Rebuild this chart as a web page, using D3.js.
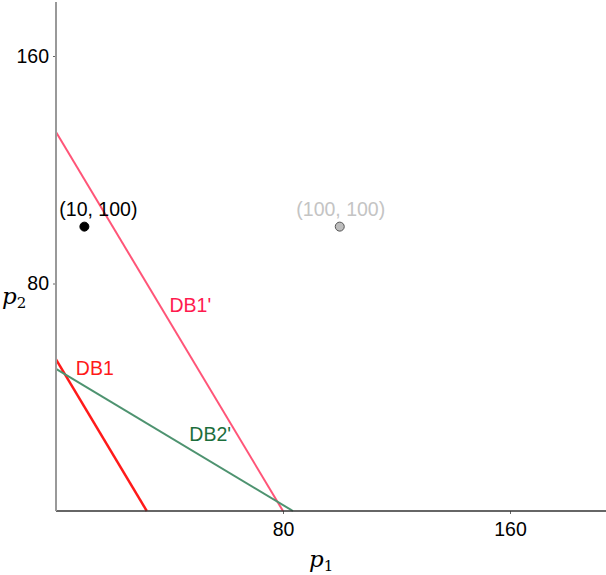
<!DOCTYPE html>
<html>
<head>
<meta charset="utf-8">
<script src="https://cdn.jsdelivr.net/npm/d3@7"></script>
<style>
  body { margin: 0; background: #fff; }
  text { font-family: "Liberation Sans", Arial, sans-serif; }
</style>
</head>
<body>
<div id="chart"></div>
<script>
// budget lines: intercepts on p1 and p2 axes
var lineNames = ["DB1", "DB1'", "DB2'"];
var lineP1Intercepts = [32, 80, 83.5];
var lineP2Intercepts = [53.3, 133.3, 50];
var lineColors = ["#ff1a1a", "#ff5578", "#4e9370"];
var labelColors = ["#ff1a1a", "#ff1a4f", "#1c6e3c"];
var labelPos = [[7, 48], [40, 70], [47, 24.5]];

// points
var pointP1 = [10, 100];
var pointP2 = [100, 100];
var pointLabels = ["(10, 100)", "(100, 100)"];
var pointFill = ["#000000", "#bdbdbd"];
var pointText = ["#000000", "#c4c4c4"];
var labelShift = [14, 1];

var tickValues = [80, 160];

var width = 606, height = 575;
var fontSize = "19.5px";
var svg = d3.select("#chart").append("svg")
    .attr("width", width)
    .attr("height", height);

var x = d3.scaleLinear().domain([0, 80]).range([56, 283]);
var y = d3.scaleLinear().domain([0, 80]).range([511, 283.5]);
var xMax = x.invert(606), yMax = y.invert(2);

// budget lines
lineNames.forEach(function (name, i) {
    svg.append("line")
        .attr("x1", x(0)).attr("y1", y(lineP2Intercepts[i]))
        .attr("x2", x(lineP1Intercepts[i])).attr("y2", y(0))
        .attr("stroke", lineColors[i])
        .attr("stroke-width", i == 0 ? 2.5 : 2);
    svg.append("text")
        .attr("x", x(labelPos[i][0]))
        .attr("y", y(labelPos[i][1]))
        .attr("fill", labelColors[i])
        .style("font-size", fontSize)
        .text(name);
});

// axes
var xAxis = d3.axisBottom(x).tickValues(tickValues).tickSize(3).tickPadding(8);
var gx = svg.append("g").attr("transform", "translate(0," + y(0) + ")").call(xAxis);
gx.select(".domain").remove();
gx.selectAll("line").attr("stroke", "#666");
gx.selectAll("text").style("font-size", fontSize).attr("fill", "#000");
svg.append("line")
    .attr("x1", x(0)).attr("x2", x(xMax))
    .attr("y1", y(0)).attr("y2", y(0))
    .attr("stroke", "#333").attr("stroke-width", 1.5);

var yAxis = d3.axisLeft(y).tickValues(tickValues).tickSize(3).tickPadding(4);
var gy = svg.append("g").attr("transform", "translate(" + x(0) + ",0)").call(yAxis);
gy.select(".domain").remove();
gy.selectAll("line").attr("stroke", "#666");
gy.selectAll("text").style("font-size", fontSize).attr("fill", "#000");
svg.append("line")
    .attr("x1", x(0)).attr("x2", x(0))
    .attr("y1", y(0)).attr("y2", y(yMax))
    .attr("stroke", "#999").attr("stroke-width", 2);

// points
pointLabels.forEach(function (lab, i) {
    svg.append("circle")
        .attr("cx", x(pointP1[i])).attr("cy", y(pointP2[i]))
        .attr("r", 4.5)
        .attr("fill", pointFill[i])
        .attr("stroke", i == 0 ? "#000" : "#555")
        .attr("stroke-width", 1);
    svg.append("text")
        .attr("x", x(pointP1[i]) + labelShift[i])
        .attr("y", y(pointP2[i]) - 11)
        .attr("text-anchor", "middle")
        .attr("fill", pointText[i])
        .style("font-size", fontSize)
        .text(lab);
});

// axis titles
var t1 = svg.append("text")
    .attr("x", 309).attr("y", 567)
    .style("font-family", "'DejaVu Serif', serif")
    .style("font-style", "italic")
    .style("font-size", "23px");
t1.append("tspan").text("p");
t1.append("tspan").attr("dy", 4).style("font-size", "15px").style("font-style", "normal").text("1");

var t2 = svg.append("text")
    .attr("x", 2).attr("y", 304)
    .style("font-family", "'DejaVu Serif', serif")
    .style("font-style", "italic")
    .style("font-size", "23px");
t2.append("tspan").text("p");
t2.append("tspan").attr("dy", 4).style("font-size", "15px").style("font-style", "normal").text("2");
</script>
</body>
</html>
